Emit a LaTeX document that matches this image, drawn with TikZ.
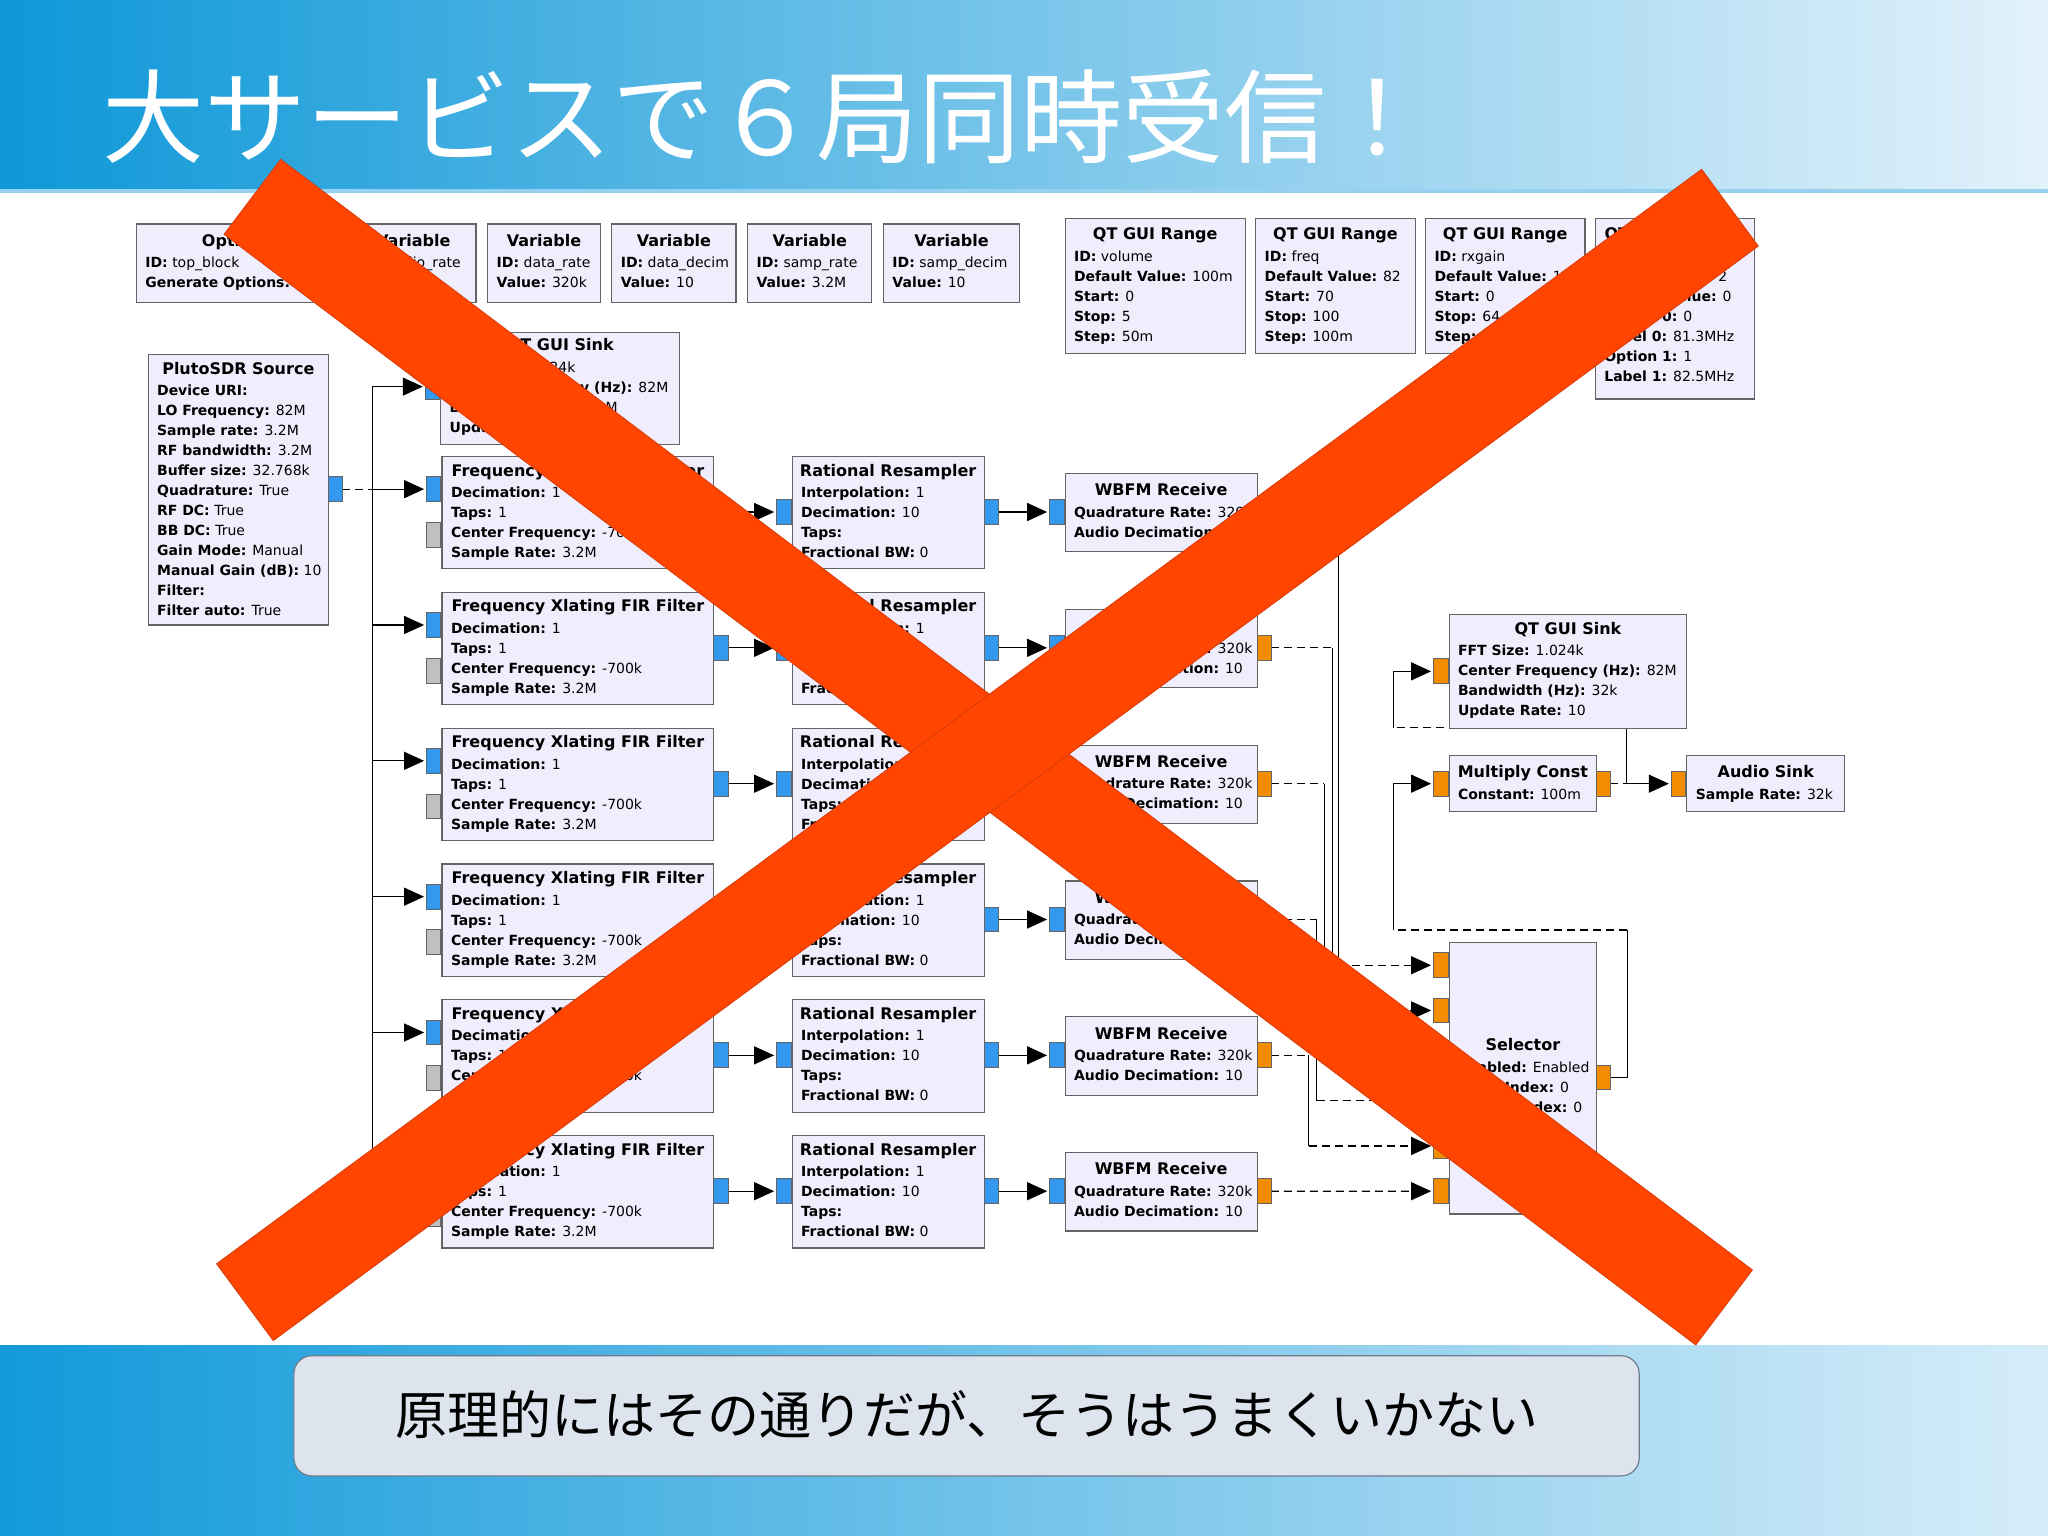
\documentclass[tikz,border=0pt]{standalone}
\usepackage{fontspec}
\setmainfont{DejaVu Sans}
\newfontfamily\jpfont{Noto Sans CJK JP}
\usetikzlibrary{arrows.meta,calc}

\definecolor{blkfill}{RGB}{240,238,252}
\definecolor{blkdraw}{RGB}{100,100,100}
\definecolor{pblue}{RGB}{51,153,238}
\definecolor{porange}{RGB}{242,140,0}
\definecolor{pgray}{RGB}{192,192,192}
\definecolor{xred}{RGB}{255,69,0}
\definecolor{xredd}{RGB}{215,60,10}
\definecolor{bandL}{RGB}{14,152,216}
\definecolor{bandR}{RGB}{226,242,251}
\definecolor{bandLine}{RGB}{150,210,240}
\definecolor{bandBL}{RGB}{18,154,218}
\definecolor{bandBR}{RGB}{214,237,249}
\definecolor{boxfill}{RGB}{221,228,238}
\definecolor{boxdraw}{RGB}{110,125,140}

\newcommand\tfont{\fontsize{8}{10}\selectfont\bfseries}
\newcommand\pfont{\fontsize{7}{10}\selectfont}
\newcommand\kk[1]{\textbf{#1}}

\tikzset{
  blk/.style={rectangle, draw=blkdraw, fill=blkfill, line width=0.6pt, inner sep=0pt},
  ttl/.style={font=\tfont, inner sep=0pt, text=black},
  prm/.style={font=\pfont, inner sep=0pt, text=black},
  port/.style={rectangle, draw=blkdraw, line width=0.5pt, minimum width=11*0.653pt, minimum height=19*0.653pt, inner sep=0pt},
  bport/.style={port, fill=pblue},
  oport/.style={port, fill=porange},
  gport/.style={port, fill=pgray},
  conn/.style={line width=0.6pt, draw=black},
  dconn/.style={conn, dash pattern=on 4pt off 2.5pt},
  arr/.style={-{Triangle[length=10pt,width=9pt]}, shorten >=1.5pt},
}

% name, x, y, w, h, title baseline offset, title, params
\newcommand\gblk[8]{%
  \node[blk, anchor=north west, minimum width=#4*0.653pt, minimum height=#5*0.653pt] (#1) at (#2,#3) {};
  \node[ttl, anchor=base] (#1t) at ($(#1.north)+(0,#6)$) {#7};
  \node[prm, anchor=base west] (#1p) at ($(#1.north west)+(7,#6+16.5)$) {\begin{tabular}[t]{@{}l@{}}#8\end{tabular}};
}

\begin{document}
\begin{tikzpicture}[x=0.653pt,y=-0.653pt]
\useasboundingbox (0,0) rectangle (1568,1176);
% ---------- background ----------
\fill[white] (0,0) rectangle (1568,1176);
\shade[left color=bandL, right color=bandR] (0,0) rectangle (1568,146);
\fill[bandLine] (0,145) rectangle (1568,148);
\shade[left color=bandBL, right color=bandBR] (0,1030) rectangle (1568,1176);
\draw[fill=boxfill, draw=boxdraw, line width=0.6pt, rounded corners=9pt] (225,1038) rectangle (1255,1130);

\node[font=\jpfont\fontsize{51}{51}\selectfont, text=white, anchor=base west, inner sep=0pt] (ttlmain) at (78,119) {大サービスで６局同時受信！};
\node[font=\jpfont\fontsize{26}{26}\selectfont, text=black, inner sep=0pt] (msg) at (740,1083) {原理的にはその通りだが、そうはうまくいかない};

% ---------- connection points ----------
\coordinate (trT) at (285,296);
\coordinate (trM) at (285,374.5);
\coordinate (trB) at (285,894.5);
\foreach \k in {0,...,5}{
  \pgfmathsetmacro\yc{392+104*\k}
  \pgfmathsetmacro\yi{374.5+104*\k}
  \pgfmathsetmacro\ys{739+34.6*\k}
  \coordinate (fi\k) at (327,\yi);
  \coordinate (fo\k) at (557,\yc);
  \coordinate (ri\k) at (595,\yc);
  \coordinate (ro\k) at (764,\yc);
  \coordinate (wi\k) at (804,\yc);
  \coordinate (wo\k) at (973,\yc);
  \coordinate (si\k) at (1098,\ys);
}
\coordinate (plo) at (262,374.5);
\coordinate (q1i) at (326,296);
\coordinate (q2i) at (1098,514);
\coordinate (mci) at (1098,600);
\coordinate (mco) at (1233,600);
\coordinate (aui) at (1280,600);
\coordinate (selo) at (1233,825);

% ---------- connectors ----------
\draw[dconn] (plo) -- (trM);
\draw[conn] (trT) -- (trB);
\draw[conn,arr] (trT) -- (q1i);
\foreach \k in {0,...,5}{
  \pgfmathsetmacro\yi{374.5+104*\k}
  \draw[conn,arr] (285,\yi) -- (fi\k);
  \draw[conn,arr] (fo\k) -- (ri\k);
  \draw[conn,arr] (ro\k) -- (wi\k);
}
\foreach \k/\vx in {0/1025,1/1020,2/1014,3/1008,4/1002}{
  \pgfmathsetmacro\yc{392+104*\k}
  \pgfmathsetmacro\ys{739+34.6*\k}
  \draw[dconn] (wo\k) -- (\vx,\yc);
  \draw[conn] (\vx,\yc) -- (\vx,\ys);
  \draw[dconn,arr] (\vx,\ys) -- (si\k);
}
\draw[dconn,arr] (wo5) -- (si5);
% selector -> multiply const
\draw[conn] (selo) -- (1246,825) -- (1246,712);
\draw[dconn] (1246,712) -- (1067,712);
\draw[conn,arr] (1067,712) -- (1067,600) -- (mci);
% multiply const -> qt gui sink / audio sink
\draw[dconn] (mco) -- (1245,600);
\draw[conn] (1245,600) -- (1245,557);
\draw[dconn] (1245,557) -- (1067,557);
\draw[conn,arr] (1067,557) -- (1067,514) -- (q2i);
\draw[conn,arr] (1245,600) -- (aui);

% ---------- blocks ----------
\gblk{opt}{104}{171}{154}{60}{17.5}{Options}{\kk{ID:} top\_block\\\kk{Generate Options:} QT GUI}
\gblk{va}{268}{171}{96}{60}{17.5}{Variable}{\kk{ID:} audio\_rate\\\kk{Value:} 32k}
\gblk{vb}{373}{171}{86}{60}{17.5}{Variable}{\kk{ID:} data\_rate\\\kk{Value:} 320k}
\gblk{vc}{468}{171}{95}{60}{17.5}{Variable}{\kk{ID:} data\_decim\\\kk{Value:} 10}
\gblk{vd}{572}{171}{95}{60}{17.5}{Variable}{\kk{ID:} samp\_rate\\\kk{Value:} 3.2M}
\gblk{ve}{676}{171}{104}{60}{17.5}{Variable}{\kk{ID:} samp\_decim\\\kk{Value:} 10}

\gblk{ga}{815}{167}{138}{103}{16.5}{QT GUI Range}{\kk{ID:} volume\\\kk{Default Value:} 100m\\\kk{Start:} 0\\\kk{Stop:} 5\\\kk{Step:} 50m}
\gblk{gb}{961}{167}{122}{103}{16.5}{QT GUI Range}{\kk{ID:} freq\\\kk{Default Value:} 82\\\kk{Start:} 70\\\kk{Stop:} 100\\\kk{Step:} 100m}
\gblk{gc}{1091}{167}{122}{103}{16.5}{QT GUI Range}{\kk{ID:} rxgain\\\kk{Default Value:} 10\\\kk{Start:} 0\\\kk{Stop:} 64\\\kk{Step:} 1}
\gblk{gd}{1221}{167}{122}{138}{16.5}{QT GUI Chooser}{\kk{ID:} ch\\\kk{Num Options:} 2\\\kk{Default Value:} 0\\\kk{Option 0:} 0\\\kk{Label 0:} 81.3MHz\\\kk{Option 1:} 1\\\kk{Label 1:} 82.5MHz}

\gblk{pl}{113}{271}{138}{207}{15.5}{PlutoSDR Source}{\kk{Device URI:}\\\kk{LO Frequency:} 82M\\\kk{Sample rate:} 3.2M\\\kk{RF bandwidth:} 3.2M\\\kk{Buffer size:} 32.768k\\\kk{Quadrature:} True\\\kk{RF DC:} True\\\kk{BB DC:} True\\\kk{Gain Mode:} Manual\\\kk{Manual Gain (dB):} 10\\\kk{Filter:}\\\kk{Filter auto:} True}
\node[bport, anchor=west] (pl-o) at (251,374.5) {};

\gblk{qa}{337}{254}{183}{86}{14.5}{QT GUI Sink}{\kk{FFT Size:} 1.024k\\\kk{Center Frequency (Hz):} 82M\\\kk{Bandwidth (Hz):} 3.2M\\\kk{Update Rate:} 10}
\node[bport, anchor=east] (qa-i) at (337,296) {};

\foreach \k in {0,...,5}{
  \pgfmathsetmacro\yt{349+104*\k}
  \pgfmathsetmacro\yw{362+104*\k}
  \pgfmathsetmacro\yc{392+104*\k}
  \gblk{f\k}{338}{\yt}{208}{86}{15.5}{Frequency Xlating FIR Filter}{\kk{Decimation:} 1\\\kk{Taps:} 1\\\kk{Center Frequency:} -700k\\\kk{Sample Rate:} 3.2M}
  \node[bport, anchor=east] (f\k-i) at (338,\yc-17.5) {};
  \node[gport, anchor=east] (f\k-g) at (338,\yc+17.5) {};
  \node[bport, anchor=west] (f\k-o) at (546,\yc) {};
  \gblk{r\k}{606}{\yt}{147}{86}{15.5}{Rational Resampler}{\kk{Interpolation:} 1\\\kk{Decimation:} 10\\\kk{Taps:}\\\kk{Fractional BW:} 0}
  \node[bport, anchor=east] (r\k-i) at (606,\yc) {};
  \node[bport, anchor=west] (r\k-o) at (753,\yc) {};
  \gblk{w\k}{815}{\yw}{147}{60}{17.5}{WBFM Receive}{\kk{Quadrature Rate:} 320k\\\kk{Audio Decimation:} 10}
  \node[bport, anchor=east] (w\k-i) at (815,\yc) {};
  \node[oport, anchor=west] (w\k-o) at (962,\yc) {};
}

\gblk{qb}{1109}{470}{182}{87}{15.5}{QT GUI Sink}{\kk{FFT Size:} 1.024k\\\kk{Center Frequency (Hz):} 82M\\\kk{Bandwidth (Hz):} 32k\\\kk{Update Rate:} 10}
\node[oport, anchor=east] (qb-i) at (1109,514) {};

\gblk{mc}{1109}{578}{113}{43}{17.5}{Multiply Const}{\kk{Constant:} 100m}
\node[oport, anchor=east] (mc-i) at (1109,600) {};
\node[oport, anchor=west] (mc-o) at (1222,600) {};

\gblk{au}{1291}{578}{121}{43}{17.5}{Audio Sink}{\kk{Sample Rate:} 32k}
\node[oport, anchor=east] (au-i) at (1291,600) {};

\gblk{sel}{1109}{721}{113}{208}{83.5}{Selector}{\kk{Enabled:} Enabled\\\kk{Input Index:} 0\\\kk{Output Index:} 0}
\foreach \k in {0,...,5}{
  \pgfmathsetmacro\ys{739+34.6*\k}
  \node[oport, anchor=east] (sel-i\k) at (1109,\ys) {};
}
\node[oport, anchor=west] (sel-o) at (1222,825) {};

% ---------- red X ----------
\fill[xred, draw=xredd, line width=0.4pt] (214.9,122.0) -- (1341.7,972.3) -- (1298.3,1029.7) -- (171.5,179.4) -- cycle;
\fill[xred, draw=xredd, line width=0.4pt] (165.8,967.6) -- (1302.8,129.6) -- (1346.2,188.4) -- (209.2,1026.4) -- cycle;
\end{tikzpicture}
\end{document}
